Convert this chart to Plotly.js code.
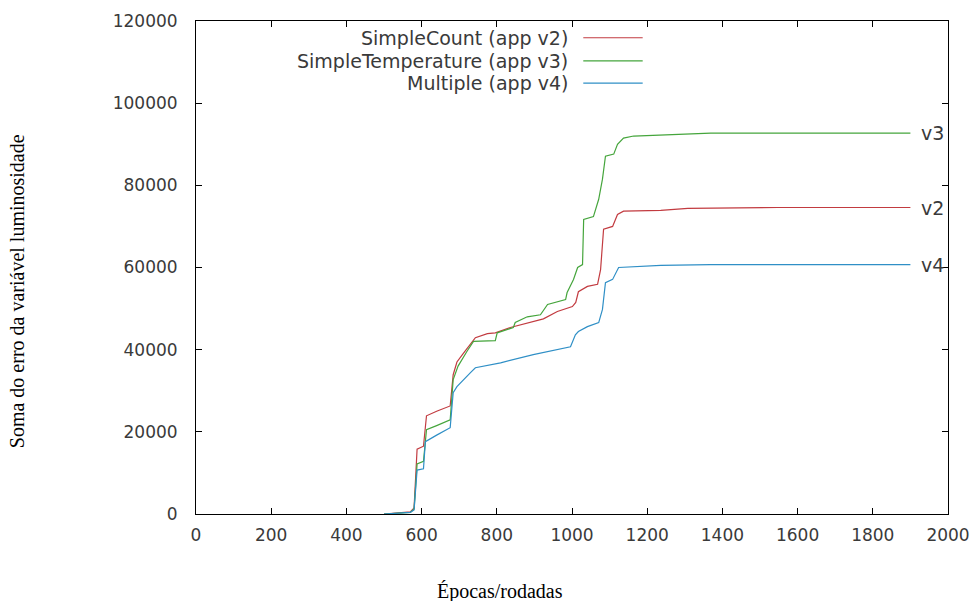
<!DOCTYPE html>
<html>
<head>
<meta charset="utf-8">
<script src="https://cdn.plot.ly/plotly-3.0.1.min.js"></script>
<style>html,body{margin:0;padding:0;background:#fff;}#chart{width:972px;height:601px;}</style>
</head>
<body>
<div id="chart"></div>
<script>
// Series names and end labels
const seriesNames = ["SimpleCount (app v2)", "SimpleTemperature (app v3)", "Multiple (app v4)"];
const endLabels = ["v2", "v3", "v4"];
const xTitle = "Épocas/rodadas";
const yTitle = "Soma do erro da variável luminosidade";

// SimpleCount (app v2)
const v2X = [500, 540, 570, 580, 588, 605, 613, 640, 676, 684, 694, 710, 725, 743, 775, 796, 836, 897, 924, 961, 1001, 1010, 1017, 1041, 1068, 1076, 1084, 1108, 1121, 1137, 1236, 1308, 1547, 1900];
const v2Y = [0, 200, 500, 1500, 15800, 16500, 23900, 25000, 26300, 33900, 37000, 39000, 40700, 42900, 43900, 44100, 45400, 46800, 47500, 49300, 50500, 51500, 54100, 55400, 55900, 59500, 69300, 70000, 72900, 73700, 73900, 74400, 74600, 74600];

// SimpleTemperature (app v3)
const v3X = [500, 540, 570, 580, 588, 605, 613, 640, 676, 684, 697, 720, 738, 796, 801, 844, 849, 881, 916, 935, 983, 987, 1004, 1015, 1028, 1031, 1057, 1071, 1081, 1089, 1111, 1121, 1137, 1164, 1236, 1369, 1900];
const v3Y = [0, 200, 400, 1200, 12200, 12800, 20500, 21500, 22900, 32700, 36000, 39500, 42000, 42200, 44100, 45400, 46600, 48000, 48500, 51000, 52200, 53900, 57100, 60000, 60700, 71700, 72400, 76600, 81500, 87100, 87600, 90000, 91500, 92000, 92200, 92700, 92700];

// Multiple (app v4)
const v4X = [500, 540, 570, 580, 588, 605, 610, 640, 676, 684, 694, 730, 743, 810, 897, 996, 1009, 1017, 1041, 1071, 1081, 1089, 1108, 1124, 1236, 1369, 1900];
const v4Y = [0, 200, 400, 1000, 10700, 11000, 17600, 19200, 21000, 29500, 31000, 34400, 35600, 36800, 38800, 40700, 43600, 44400, 45600, 46600, 49800, 56300, 57100, 60000, 60500, 60700, 60700];

const colors = ["#c23b40", "#45a53c", "#2f8fc6"];
const xs = [v2X, v3X, v4X];
const ys = [v2Y, v3Y, v4Y];

const tickFont = {family: "DejaVu Sans", size: 17, color: "#3a3a3a"};
const labelFont = {family: "DejaVu Sans", size: 19, color: "#3a3a3a"};
const titleFont = {family: "Liberation Serif", size: 20, color: "#000"};

const traces = xs.map((x, i) => ({
  type: "scatter", mode: "lines", x: x, y: ys[i], name: seriesNames[i],
  line: {color: colors[i], width: 1.2}, showlegend: false, hoverinfo: "skip"
}));

const annotations = [];
const shapes = [];
// end-of-line labels
xs.forEach((x, i) => {
  annotations.push({x: x[x.length - 1] + 23, y: ys[i][ys[i].length - 1], xref: "x", yref: "y",
    text: endLabels[i], showarrow: false, xanchor: "left", yanchor: "middle", font: labelFont});
});
// custom legend (text left of the line sample)
const legendRows = [0.966, 0.919, 0.874];
seriesNames.forEach((n, i) => {
  annotations.push({x: 0.497, y: legendRows[i], xref: "paper", yref: "paper", text: n, showarrow: false,
    xanchor: "right", yanchor: "middle", font: labelFont});
  shapes.push({type: "line", xref: "paper", yref: "paper", x0: 0.515, x1: 0.594, y0: legendRows[i], y1: legendRows[i],
    line: {color: colors[i], width: 1.2}});
});
// axis titles, centred on the canvas as in the original
annotations.push({x: -0.238, y: 0.452, xref: "paper", yref: "paper", text: yTitle, textangle: -90,
  showarrow: false, xanchor: "center", yanchor: "middle", font: titleFont});
annotations.push({x: 0.404, y: -0.158, xref: "paper", yref: "paper", text: xTitle,
  showarrow: false, xanchor: "center", yanchor: "middle", font: titleFont});

const layout = {
  width: 972, height: 601,
  margin: {l: 196, r: 24, t: 21, b: 87, pad: 0},
  paper_bgcolor: "#ffffff", plot_bgcolor: "#ffffff",
  showlegend: false,
  xaxis: {
    range: [0, 2000], dtick: 200, tick0: 0, showgrid: false, zeroline: false,
    showline: true, linecolor: "#000", linewidth: 1, mirror: "ticks",
    ticks: "inside", ticklen: 6, tickcolor: "#000", tickfont: tickFont, ticklabelstandoff: 6
  },
  yaxis: {
    range: [0, 120000], dtick: 20000, tick0: 0, showgrid: false, zeroline: false,
    tickformat: "d",
    showline: true, linecolor: "#000", linewidth: 1, mirror: "ticks",
    ticks: "inside", ticklen: 6, tickcolor: "#000", tickfont: tickFont, ticklabelstandoff: 14
  },
  annotations: annotations,
  shapes: shapes
};

Plotly.newPlot("chart", traces, layout, {staticPlot: true, displayModeBar: false});
</script>
</body>
</html>
